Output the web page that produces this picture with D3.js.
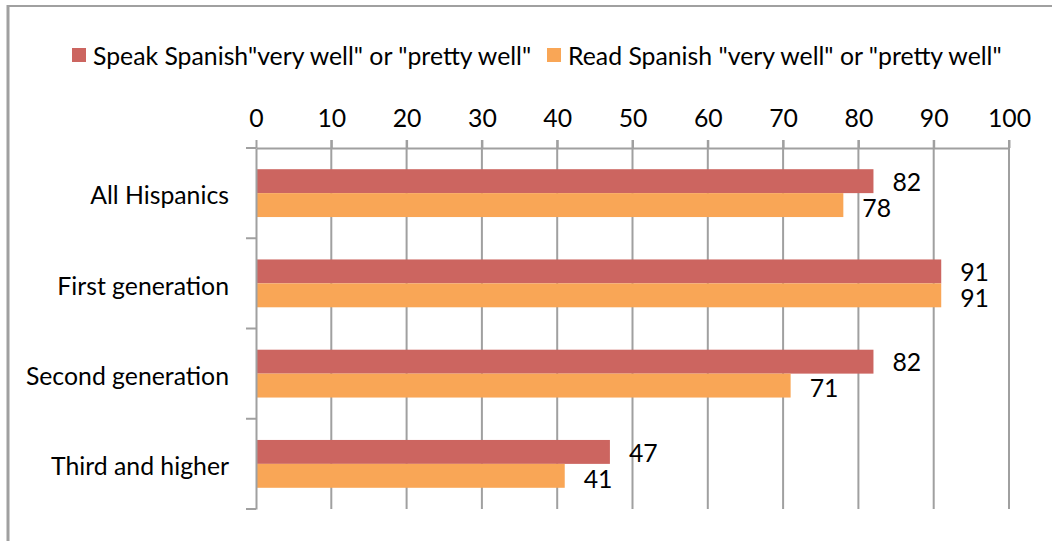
<!DOCTYPE html>
<html><head><meta charset="utf-8">
<script src="https://cdn.jsdelivr.net/npm/d3@7"></script>
<style>html,body{margin:0;padding:0;background:#fff;} text{font-family:Lato,"Open Sans",sans-serif;fill:#000;}</style>
</head><body><svg id="chart" width="1052" height="541"></svg>
<script>
const categories = ["All Hispanics", "First generation", "Second generation", "Third and higher"];
const seriesNames = ['Speak Spanish"very well" or "pretty well"', 'Read Spanish "very well" or "pretty well"'];
const speakValues = [82, 91, 82, 47];
const readValues = [78, 91, 71, 41];
const tickValues = [0, 10, 20, 30, 40, 50, 60, 70, 80, 90, 100];
const colors = ["#CC6560", "#F9A656"];

const svg = d3.select("#chart");
const fs = 24.8;
// outer border (top and left visible)
svg.append("line").attr("x1", 8).attr("x2", 1052).attr("y1", 6).attr("y2", 6).attr("stroke", "#A0A0A0").attr("stroke-width", 2);
svg.append("line").attr("x1", 8).attr("x2", 8).attr("y1", 5).attr("y2", 541).attr("stroke", "#A0A0A0").attr("stroke-width", 3);

const x = d3.scaleLinear().domain([0, 100]).range([256, 1009]);
const y = d3.scaleBand().domain(categories).range([148, 509]).paddingInner(0.47).paddingOuter(0.235);
const ySub = d3.scaleBand().domain([0, 1]).range([0, y.bandwidth()]);

// gridlines
svg.append("g").selectAll("line").data(tickValues.slice(1)).join("line")
  .attr("x1", d => x(d)).attr("x2", d => x(d)).attr("y1", 140).attr("y2", 509)
  .attr("stroke", "#A0A0A0").attr("stroke-width", 2);

// top axis
const xAxis = svg.append("g").attr("transform", "translate(0,148)")
  .call(d3.axisTop(x).tickValues(tickValues).tickSize(8).tickPadding(13).tickSizeOuter(0));
xAxis.select(".domain").attr("stroke", "#A0A0A0").attr("stroke-width", 2);
xAxis.selectAll(".tick line").attr("stroke", "#A0A0A0").attr("stroke-width", 2);
xAxis.selectAll(".tick text").attr("font-size", fs).attr("font-family", "Lato").attr("fill", "#000");

// bars
const groups = svg.append("g").selectAll("g").data(categories).join("g")
  .attr("transform", d => `translate(0,${y(d)})`);
const seriesData = [speakValues, readValues];
seriesData.forEach((vals, si) => {
  groups.append("rect")
    .attr("x", x(0))
    .attr("y", ySub(si))
    .attr("width", (d, i) => x(vals[i]) - x(0))
    .attr("height", ySub.bandwidth())
    .attr("fill", colors[si]);
  groups.append("text")
    .attr("x", (d, i) => x(vals[i]) + 19)
    .attr("y", ySub(si) + ySub.bandwidth() / 2 + (si === 0 ? 1 : 3))
    .attr("dy", "0.35em")
    .attr("font-size", fs)
    .text((d, i) => vals[i]);
});

// left axis
const yAxisBand = d3.scaleBand().domain(categories).range([148, 509]);
const yAxis = svg.append("g").attr("transform", `translate(${x(0)},0)`)
  .call(d3.axisLeft(yAxisBand).tickSize(0).tickPadding(27).tickSizeOuter(0));
yAxis.select(".domain").attr("stroke", "#A0A0A0").attr("stroke-width", 2);
yAxis.selectAll(".tick text").attr("font-size", fs).attr("font-family", "Lato").attr("fill", "#000").attr("dy", "0.45em");
// category boundary ticks
const bounds = [148].concat(categories.map(c => yAxisBand(c) + yAxisBand.bandwidth()));
svg.append("g").selectAll("line").data(bounds).join("line")
  .attr("x1", x(0) - 10).attr("x2", x(0)).attr("y1", d => d).attr("y2", d => d)
  .attr("stroke", "#A0A0A0").attr("stroke-width", 2);

// legend
const legendX = [72, 547];
seriesNames.forEach((name, i) => {
  svg.append("rect").attr("x", legendX[i]).attr("y", 48).attr("width", 14).attr("height", 14).attr("fill", colors[i]);
  svg.append("text").attr("x", legendX[i] + 21).attr("y", 56).attr("dy", "0.35em").attr("font-size", fs).text(name);
});
</script></body></html>
